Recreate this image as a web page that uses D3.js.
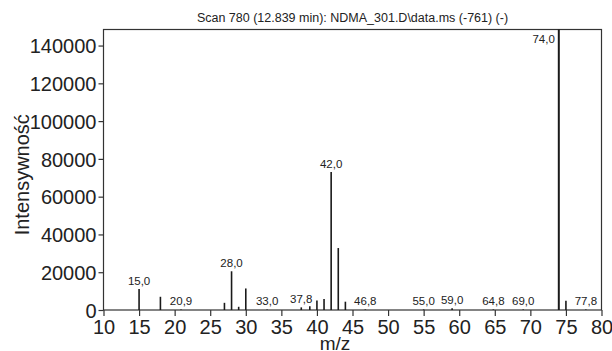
<!DOCTYPE html>
<html>
<head>
<meta charset="utf-8">
<script src="https://cdn.jsdelivr.net/npm/d3@7"></script>
<style>
  body { margin: 0; background: #fff; }
  text { font-family: "Liberation Sans", Arial, sans-serif; fill: #222; }
</style>
</head>
<body>
<svg id="chart"></svg>
<script>
// spectrum peaks
const mzValues = [15, 18, 20.9, 27, 28, 29, 30, 33, 37.8, 39, 40, 41, 42, 43, 44, 46.8, 55, 59, 64.8, 69, 74, 75, 77.8];
const intensities = [11100, 7000, 300, 3800, 20500, 1700, 11400, 300, 1400, 2000, 5000, 5800, 73000, 32800, 4400, 300, 300, 900, 300, 300, 148500, 4900, 300];
// peaks that carry a label
const labelledMz = [15, 20.9, 28, 33, 37.8, 42, 46.8, 55, 59, 64.8, 69, 74, 77.8];
const xTicks = d3.range(10, 81, 5);
const yTicks = d3.range(0, 140001, 20000);

const title = 'Scan 780 (12.839 min): NDMA_301.D\\data.ms (-761) (-)';
const xTitle = 'm/z';
const yTitle = 'Intensywność';

const width = 612, height = 351;
const margin = { top: 29.5, right: 10.5, bottom: 41, left: 103.5 };
const innerW = width - margin.left - margin.right;
const innerH = height - margin.top - margin.bottom;

const svg = d3.select('#chart').attr('width', width).attr('height', height);
const g = svg.append('g').attr('transform', `translate(${margin.left},${margin.top})`);

const x = d3.scaleLinear().domain([10, 80]).range([0, innerW]);
const y = d3.scaleLinear().domain([0, 148500]).range([innerH, 0]);

const peaks = mzValues.map((m, i) => ({ mz: m, value: intensities[i] }));

// frame
g.append('rect')
  .attr('width', innerW).attr('height', innerH)
  .attr('fill', 'none').attr('stroke', '#333').attr('stroke-width', 1.2);

// x axis
const xAxis = g.append('g')
  .attr('transform', `translate(0,${innerH})`)
  .call(d3.axisBottom(x).tickValues(xTicks).tickSize(6).tickPadding(4).tickFormat(d3.format('d')));
xAxis.select('.domain').remove();
xAxis.selectAll('line').attr('stroke', '#333').attr('stroke-width', 1.2);
xAxis.selectAll('text').style('font-size', '20px').attr('fill', '#222');

// y axis
const yAxis = g.append('g')
  .call(d3.axisLeft(y).tickValues(yTicks).tickSize(5).tickPadding(2).tickFormat(d3.format('d')));
yAxis.select('.domain').remove();
yAxis.selectAll('line').attr('stroke', '#333').attr('stroke-width', 1.2);
yAxis.selectAll('text').style('font-size', '20px').attr('fill', '#222').attr('dy', '0.36em');

// peaks
g.selectAll('.peak')
  .data(peaks)
  .join('line')
  .attr('class', 'peak')
  .attr('x1', d => x(d.mz)).attr('x2', d => x(d.mz))
  .attr('y1', y(0)).attr('y2', d => y(d.value))
  .attr('stroke', '#1a1a1a')
  .attr('stroke-width', d => d.mz === 74 ? 2 : 1.6);

// peak labels
const fmt = d => d3.format('.1f')(d).replace('.', ',');
const labelled = peaks.filter(d => labelledMz.includes(d.mz));
g.selectAll('.peak-label')
  .data(labelled)
  .join('text')
  .attr('class', 'peak-label')
  .attr('x', d => d.mz === 74 ? x(d.mz) - 4 : x(d.mz))
  .attr('y', d => d.mz === 74 ? 13 : y(d.value) - 4)
  .attr('text-anchor', d => d.mz === 74 ? 'end' : 'middle')
  .style('font-size', '11.5px')
  .text(d => fmt(d.mz));

// titles
svg.append('text')
  .attr('x', margin.left + innerW / 2)
  .attr('y', 22)
  .attr('text-anchor', 'middle')
  .style('font-size', '12.5px')
  .text(title);

svg.append('text')
  .attr('x', 335)
  .attr('y', 350)
  .attr('text-anchor', 'middle')
  .style('font-size', '19px')
  .text(xTitle);

svg.append('text')
  .attr('transform', `translate(29,${margin.top + innerH / 2 + 5}) rotate(-90)`)
  .attr('text-anchor', 'middle')
  .style('font-size', '20px')
  .text(yTitle);
</script>
</body>
</html>
